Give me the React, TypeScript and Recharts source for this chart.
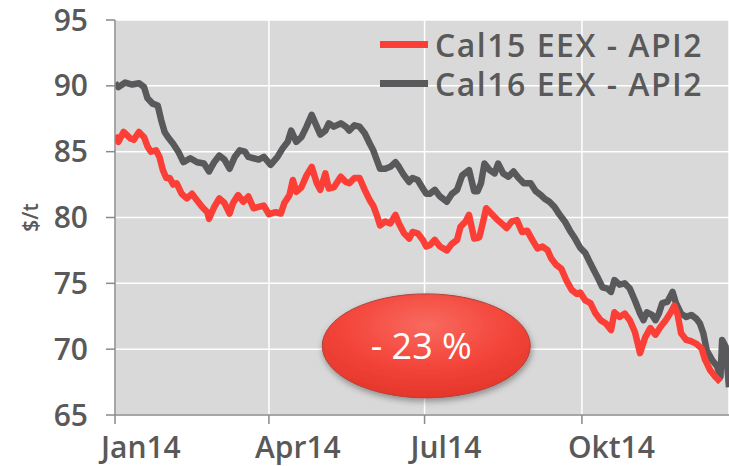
// coal forward prices 2014, cal15 vs cal16 (eex api2), with the -23 % badge
import { LineChart, Line, XAxis, YAxis, CartesianGrid, Legend, ReferenceDot, Label } from "recharts";

// x axis is day of year 2014 (0 = 1 jan); labels sit at the quarter starts
const monthLabels = ["Jan14", "Apr14", "Jul14", "Okt14"];
const monthDays = [0, 90, 181, 273];
const yTicks = [65, 70, 75, 80, 85, 90, 95];

const seriesNames = ["Cal15 EEX - API2", "Cal16 EEX - API2"];
const seriesColors = ["#fb3f36", "#59585b"];

// roughly every 3 days
const cal15Days = [
  0, 2, 5, 7, 9, 11, 14, 17, 19, 21, 24, 26, 28, 30, 32, 34, 36, 39, 42, 45, 48, 51, 54, 55, 58, 61, 64, 67, 69, 72,
  75, 78, 81, 84, 87, 90, 94, 97, 99, 102, 104, 106, 109, 112, 115, 118, 120, 123, 125, 128, 132, 135, 137, 140, 143,
  146, 149, 151, 153, 155, 158, 161, 164, 166, 169, 172, 174, 177, 180, 182, 184, 187, 190, 194, 197, 200, 202, 205,
  207, 210, 213, 215, 217, 220, 223, 226, 229, 232, 235, 238, 241, 244, 247, 250, 253, 255, 258, 261, 264, 267, 270,
  272, 275, 278, 281, 284, 287, 290, 292, 295, 298, 301, 304, 307, 310, 313, 316, 319, 322, 325, 327, 329, 331, 334,
  337, 340, 343, 345, 348, 351, 354,
];
const cal15Values = [
  86.25, 85.75, 86.5, 86.25, 86.0, 85.9, 86.5, 86.1, 85.4, 85.0, 85.1, 84.6, 83.6, 83.0, 83.0, 82.5, 82.6, 81.8, 81.45,
  81.8, 81.3, 80.8, 80.4, 79.9, 80.8, 81.45, 81.1, 80.3, 81.1, 81.7, 81.2, 81.6, 80.7, 80.8, 80.9, 80.25, 80.4, 80.3,
  81.1, 81.7, 82.85, 81.95, 82.3, 83.2, 83.85, 82.6, 82.1, 83.35, 82.2, 82.3, 83.1, 82.7, 82.6, 83.0, 83.0, 82.1, 81.3,
  80.9, 80.2, 79.4, 79.7, 79.55, 80.2, 79.55, 78.8, 78.4, 78.9, 78.8, 78.3, 77.8, 77.9, 78.3, 77.8, 77.5, 78.0, 78.3,
  79.3, 79.7, 80.2, 78.4, 78.5, 79.55, 80.7, 80.3, 79.9, 79.55, 79.2, 79.7, 79.8, 78.9, 79.0, 78.3, 77.65, 77.8, 77.5,
  76.9, 76.4, 76.1, 75.2, 74.5, 74.2, 74.3, 73.7, 73.5, 72.7, 72.2, 71.95, 71.45, 72.8, 72.45, 72.7, 72.2, 71.3, 69.7,
  70.9, 71.6, 71.1, 71.7, 72.2, 72.8, 73.3, 72.6, 71.2, 70.7, 70.6, 70.4, 70.05, 69.2, 68.4, 67.9, 67.5,
];

const cal16Days = [
  0, 2, 6, 10, 14, 17, 19, 22, 25, 27, 29, 31, 34, 37, 40, 44, 48, 52, 55, 58, 61, 64, 67, 70, 73, 76, 78, 81, 84, 87,
  91, 95, 98, 101, 103, 106, 109, 112, 115, 118, 120, 123, 125, 128, 132, 135, 137, 140, 143, 146, 149, 151, 153, 155,
  158, 161, 164, 166, 169, 172, 174, 177, 180, 182, 184, 187, 190, 194, 197, 200, 203, 207, 210, 212, 214, 216, 219,
  222, 224, 227, 230, 233, 236, 239, 243, 246, 249, 251, 254, 257, 260, 263, 266, 269, 272, 275, 278, 280, 282, 285,
  288, 290, 292, 295, 298, 301, 304, 307, 309, 311, 314, 316, 318, 320, 323, 326, 328, 331, 334, 337, 340, 342, 344,
  346, 349, 352, 354, 355, 357, 359,
];
const cal16Values = [
  90.2, 89.9, 90.25, 90.1, 90.2, 89.9, 89.05, 88.65, 88.5, 87.4, 86.5, 86.1, 85.6, 85.0, 84.2, 84.5, 84.2, 84.1, 83.5,
  84.2, 84.7, 84.4, 83.7, 84.6, 85.1, 85.0, 84.6, 84.5, 84.4, 84.6, 84.0, 84.6, 85.25, 85.75, 86.6, 85.75, 86.1, 86.9,
  87.8, 86.9, 86.3, 86.6, 87.15, 86.9, 87.15, 86.9, 86.6, 87.0, 86.9, 86.4, 85.6, 85.1, 84.4, 83.7, 83.7, 83.85, 84.2,
  83.85, 83.2, 82.7, 83.0, 82.85, 82.2, 81.8, 81.8, 82.1, 81.6, 81.2, 81.8, 82.1, 83.2, 83.6, 82.0, 82.0, 82.6, 84.1,
  83.6, 83.35, 84.1, 83.35, 83.1, 83.5, 83.0, 82.6, 82.6, 82.0, 81.7, 81.45, 81.2, 80.8, 80.2, 79.7, 79.0, 78.4, 77.7,
  77.3, 76.5, 76.0, 75.5, 74.7, 74.6, 74.35, 75.25, 74.9, 75.0, 74.6, 73.7, 72.7, 72.2, 72.8, 72.6, 72.2, 72.7, 73.5,
  73.6, 74.35, 73.5, 72.7, 72.45, 72.6, 72.3, 71.95, 71.2, 69.9, 69.2, 68.7, 67.9, 70.7, 70.2, 67.1,
];

const dropLabel = "- 23 %";
const dropDay = 182;
const dropValue = 70.25;

const cal15Data = cal15Days.map((d, i) => ({ day: d, price: cal15Values[i] }));
const cal16Data = cal16Days.map((d, i) => ({ day: d, price: cal16Values[i] }));

const textGray = "#595959";
const font = "'Open Sans', sans-serif";

// quarter labels start a bit left of the tick, like the original
function MonthTick(props: any) {
  const { x, y, payload } = props;
  const idx = monthDays.indexOf(payload.value);
  return (
    <text x={x - 14} y={y} dy={32} textAnchor="start" fill={textGray} fontSize={30} fontWeight={600} fontFamily={font}>
      {monthLabels[idx]}
    </text>
  );
}

function LegendBox() {
  return (
    <div style={{ fontFamily: font, fontWeight: 600, fontSize: 32, letterSpacing: 1.5, color: textGray }}>
      {seriesNames.map((name, i) => (
        <div key={name} style={{ display: "flex", alignItems: "center", height: 39, whiteSpace: "nowrap" }}>
          <span style={{ display: "inline-block", width: 48, height: 7, background: seriesColors[i], marginRight: 7 }} />
          {name}
        </div>
      ))}
    </div>
  );
}

function DropBadge(props: any) {
  const { cx, cy } = props;
  return (
    <g>
      <defs>
        <radialGradient id="badgeFill" cx="50%" cy="30%" r="70%">
          <stop offset="0" stopColor="#f86a5f" />
          <stop offset="0.55" stopColor="#f4463b" />
          <stop offset="1" stopColor="#e5362b" />
        </radialGradient>
        <filter id="badgeShadow" x="-20%" y="-20%" width="140%" height="160%">
          <feDropShadow dx="1" dy="3" stdDeviation="3" floodColor="#000" floodOpacity="0.35" />
        </filter>
      </defs>
      <ellipse cx={cx} cy={cy} rx={104} ry={52} fill="url(#badgeFill)" stroke="#a9453c" strokeWidth={1} filter="url(#badgeShadow)" />
      <text x={cx - 5} y={cy} dy={13} textAnchor="middle" fill="#fff" fontSize={36} fontFamily={font}>
        {dropLabel}
      </text>
    </g>
  );
}

export default function App() {
  return (
    <div style={{ position: "absolute", left: 0, top: 0, background: "#fff" }}>
      <LineChart width={729} height={466} margin={{ top: 20, right: 0, left: 0, bottom: 0 }}>
        <CartesianGrid fill="#d9d9d9" stroke="#ffffff" strokeWidth={1.5} />
        <XAxis
          dataKey="day"
          type="number"
          domain={[0, 359]}
          ticks={monthDays}
          tick={<MonthTick />}
          height={51}
          tickSize={9}
          stroke="#8a8a8a"
          strokeWidth={1.5}
          allowDataOverflow
        />
        <YAxis
          type="number"
          domain={[65, 95]}
          ticks={yTicks}
          width={115}
          tickSize={9}
          tickMargin={18}
          stroke="#8a8a8a"
          strokeWidth={1.5}
          tick={{ fill: textGray, fontSize: 30, fontWeight: 600, fontFamily: font }}
        >
          <Label
            content={(p: any) => {
              const vb = p.viewBox;
              const cx = vb.x + 31;
              const cy = vb.y + vb.height / 2;
              return (
                <text x={cx} y={cy} transform={`rotate(-90, ${cx}, ${cy})`} textAnchor="middle" dy={7} fill={textGray} fontSize={21} fontWeight={600} fontFamily={font}>
                  $/t
                </text>
              );
            }}
          />
        </YAxis>
        <Legend
          layout="vertical"
          verticalAlign="middle"
          align="center"
          content={() => <LegendBox />}
          wrapperStyle={{ top: 25, left: 380, width: 345 }}
        />
        <Line data={cal16Data} dataKey="price" name={seriesNames[1]} stroke={seriesColors[1]} strokeWidth={6.5} dot={false} strokeLinejoin="round" isAnimationActive={false} />
        <Line data={cal15Data} dataKey="price" name={seriesNames[0]} stroke={seriesColors[0]} strokeWidth={6.5} dot={false} strokeLinejoin="round" isAnimationActive={false} />
        <ReferenceDot x={dropDay} y={dropValue} shape={(p: any) => <DropBadge {...p} />} />
      </LineChart>
    </div>
  );
}
